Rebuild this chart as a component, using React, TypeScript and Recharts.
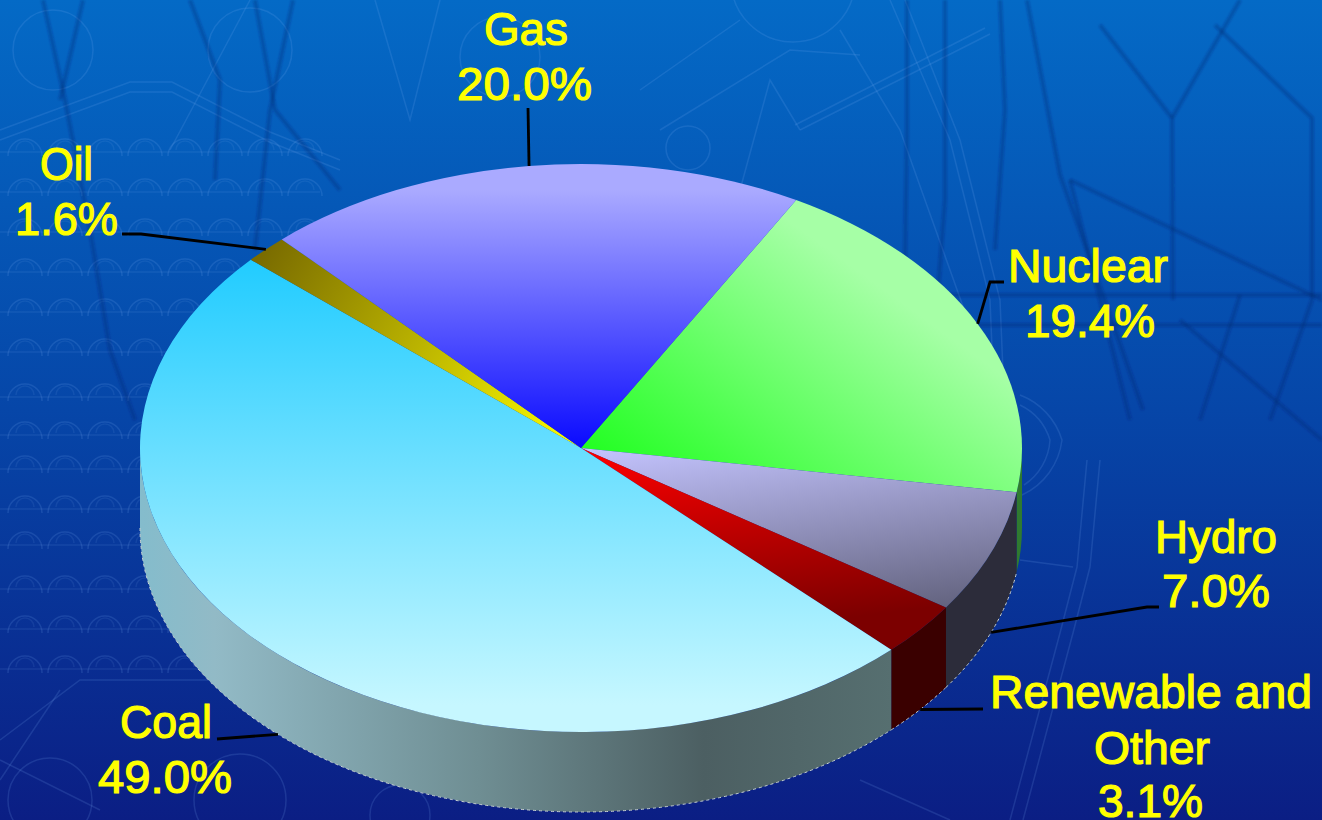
import React from "react";
import { PieChart, Pie } from "recharts";

const WIDTH = 1322;
const HEIGHT = 820;

// clockwise from the gas/nuclear boundary
const categories = ["Nuclear", "Hydro", "Renewable and Other", "Coal", "Oil", "Gas"];
const shares = [19.4, 7.0, 3.1, 49.0, 1.6, 20.0];
const nameRows = [["Nuclear"], ["Hydro"], ["Renewable and", "Other"], ["Coal"], ["Oil"], ["Gas"]];

const chartData = categories.map((name, i) => ({ name, value: shares[i] }));

// look of the tilted disc
const CX = 581;
const CY = 448;
const RADIUS = 441;
const TILT = 0.644;
const DEPTH = 80;
const START_ANGLE = 60.8;

const innerColors = ["#22ff22", "#c4c4ff", "#ff0000", "#22ccff", "#ffff00", "#0a0aff"];
const outerColors = ["#a6ffa6", "#646480", "#7c0000", "#c6f7ff", "#7a6c00", "#aaaaff"];
const sideColors = ["#2f7a30", "#2c2c3a", "#3a0000", "url(#coalSide)", "#555", "#333"];
const gradientAxes = [
  [581, 448, 760, 200],
  [581, 448, 606, 648],
  [581, 448, 606, 648],
  [581, 262, 581, 705],
  [581, 448, 266, 249],
  [581, 448, 581, 190],
];

// label placement: [x left, baseline, width] for every row, then the leader's way to the text
const rowBoxes = [
  [[1008, 282, 160], [1025, 337, 130]],
  [[1155, 553, 122], [1162, 607, 108]],
  [[990, 708, 322], [1094, 764, 116], [1098, 817, 105]],
  [[120, 738, 92], [98, 793, 134]],
  [[40, 180, 53], [15, 235, 103]],
  [[484, 45, 84], [457, 100, 135]],
];
const leaderEnds = [
  [[990, 282], [1004, 282]],
  [[1147, 607], [1159, 607]],
  [[983, 709]],
  [[217, 739]],
  [[141, 234], [122, 234]],
  [[528, 108]],
];

const toXY = (deg: number, drop = 0) => {
  const a = (deg * Math.PI) / 180;
  return [CX + RADIUS * Math.cos(a), CY - RADIUS * TILT * Math.sin(a) + drop];
};

const arcTo = (deg: number, sweep: number, large: number, drop = 0) => {
  const [x, y] = toXY(deg, drop);
  return `A${RADIUS} ${RADIUS * TILT} 0 ${large} ${sweep} ${x} ${y}`;
};

function DiscSlice(props: any) {
  const { startAngle, endAngle, index } = props;
  const hi = Math.max(startAngle, endAngle);
  const lo = Math.min(startAngle, endAngle);
  const [sx, sy] = toXY(hi);
  const top = `M${CX} ${CY}L${sx} ${sy}${arcTo(lo, 1, hi - lo > 180 ? 1 : 0)}Z`;

  // only the part of the rim facing the viewer has a wall
  const wallHi = Math.min(hi, 0);
  const wallLo = Math.max(lo, -180);
  const hasWall = wallHi > wallLo;
  let wall = "";
  let rim = "";
  if (hasWall) {
    const [ax, ay] = toXY(wallHi);
    const [bx, by] = toXY(wallLo, DEPTH);
    wall = `M${ax} ${ay}${arcTo(wallLo, 1, 0)}L${bx} ${by}${arcTo(wallHi, 0, 0, DEPTH)}Z`;
    rim = `M${bx} ${by}${arcTo(wallHi, 0, 0, DEPTH)}`;
  }

  const [x1, y1, x2, y2] = gradientAxes[index];
  const gradId = `slice${index}`;

  return (
    <g>
      <defs>
        <linearGradient id={gradId} gradientUnits="userSpaceOnUse" x1={x1} y1={y1} x2={x2} y2={y2}>
          <stop offset="0" stopColor={innerColors[index]} />
          <stop offset="1" stopColor={outerColors[index]} />
        </linearGradient>
      </defs>
      {hasWall && <path d={wall} fill={sideColors[index]} />}
      {hasWall && index !== 0 && (
        <path d={rim} fill="none" stroke="#c9d2d2" strokeWidth={1} strokeDasharray="3 3" />
      )}
      <path d={top} fill={`url(#${gradId})`} />
    </g>
  );
}

function SliceLabel(props: any) {
  const { index, midAngle, value } = props;
  const boxes = rowBoxes[index];
  const rows = [...nameRows[index], `${Number(value).toFixed(1)}%`];
  // leaders of front slices land on the bottom of the wall
  const facesViewer = Math.sin((midAngle * Math.PI) / 180) < 0;
  const anchor = toXY(midAngle, facesViewer ? DEPTH : 0);
  const leader = [anchor, ...leaderEnds[index]].map((p) => p.join(",")).join(" ");
  return (
    <g>
      <polyline points={leader} fill="none" stroke="#000" strokeWidth={2.8} />
      {rows.map((row, i) => (
        <text
          key={row}
          x={boxes[i][0]}
          y={boxes[i][1]}
          textLength={boxes[i][2]}
          lengthAdjust="spacingAndGlyphs"
          fontFamily="'Liberation Sans', Arial, sans-serif"
          fontSize={47}
          fill="#ffff00"
          stroke="#ffff00"
          strokeWidth={1.2}
        >
          {row}
        </text>
      ))}
    </g>
  );
}

// faint blueprint and pylon drawing behind the chart, decoration only
const wheelColumns = [25, 65, 105, 145, 185, 225, 265, 305];
const wheelRows = [150, 190, 230, 270, 310, 350, 395, 433, 467, 507, 543, 587, 627, 667];
const gearCircles = [
  [53, 50, 40], [250, 50, 42], [500, 57, 40], [793, -20, 62], [688, 148, 22],
  [50, 800, 42], [240, 800, 46], [400, 815, 30],
];
const paleLines = [
  "0,130 130,82 172,82 270,132 340,160",
  "0,140 130,92 172,92 270,142 340,170",
  "905,0 960,140 1000,300 1005,420",
  "890,0 950,140 990,300 995,420",
  "840,30 900,130 975,340 1000,470",
  "795,125 985,28",
  "800,130 990,34",
  "660,130 790,50 860,55",
  "640,90 740,20",
  "740,190 770,80 800,130",
  "1087,460 1077,567 1060,633 1010,820",
  "1100,460 1090,567 1073,633 1023,820",
  "1020,560 1073,567",
  "0,740 80,680 240,680",
  "0,760 100,810",
  "60,690 0,780",
  "860,780 950,820",
  "375,0 410,120 440,0",
  "170,150 250,0",
];
const paleArcs = [
  "M1022 495A70 70 0 0 0 1062 440A70 70 0 0 0 1020 395",
  "M1024 485A58 58 0 0 0 1050 440A58 58 0 0 0 1020 405",
];
const darkLines = [
  "43,0 65,100 90,230 110,350 135,420",
  "83,0 60,100",
  "293,0 270,110 255,250",
  "255,0 275,110 340,190",
  "190,0 220,80 215,180",
  "907,0 907,130 905,260",
  "945,0 945,200 935,330",
  "1027,0 1060,175 1103,295 1143,410",
  "1000,0 1005,110 995,250",
  "1100,25 1172,118 1173,300",
  "1172,118 1240,0",
  "1215,25 1312,118 1312,300",
  "1070,180 1322,300",
  "1070,180 1100,300 1130,420",
  "1240,295 1200,420",
  "1312,300 1270,420",
  "1180,320 1322,440",
  "940,295 1322,295",
  "940,325 1322,325",
];

function Backdrop() {
  return (
    <svg width={WIDTH} height={HEIGHT} style={{ position: "absolute", left: 0, top: 0 }}>
      <defs>
        <linearGradient id="sky" x1="0" y1="0" x2="0" y2="1">
          <stop offset="0" stopColor="#046ac6" />
          <stop offset="0.5" stopColor="#0646a8" />
          <stop offset="1" stopColor="#0b1e84" />
        </linearGradient>
        <filter id="soft">
          <feGaussianBlur stdDeviation="0.6" />
        </filter>
        <filter id="softer">
          <feGaussianBlur stdDeviation="1.2" />
        </filter>
      </defs>
      <rect width={WIDTH} height={HEIGHT} fill="url(#sky)" />
      <g fill="none" stroke="#7fb0f0" strokeOpacity={0.16} strokeWidth={1.5} filter="url(#soft)">
        {wheelRows.map((y) =>
          wheelColumns.map((x) => (
            <g key={`${x}-${y}`}>
              <path d={`M${x - 17} ${y + 6}A17 17 0 0 1 ${x + 17} ${y + 6}`} />
              <path d={`M${x - 9} ${y}A9 9 0 0 1 ${x + 9} ${y}`} strokeOpacity={0.1} />
            </g>
          ))
        )}
        {wheelRows.map((y) => (
          <path key={y} d={`M0 ${y + 2}H320`} strokeOpacity={0.12} />
        ))}
        {gearCircles.map(([x, y, r]) => (
          <circle key={`${x}-${y}`} cx={x} cy={y} r={r} />
        ))}
        {paleLines.map((pts) => (
          <polyline key={pts} points={pts} />
        ))}
        {paleArcs.map((d) => (
          <path key={d} d={d} />
        ))}
      </g>
      <g fill="none" stroke="#02266e" strokeOpacity={0.3} strokeWidth={4} filter="url(#softer)">
        {darkLines.map((pts) => (
          <polyline key={pts} points={pts} />
        ))}
      </g>
    </svg>
  );
}

export default function App() {
  return (
    <div
      style={{
        position: "absolute",
        left: 0,
        top: 0,
        width: WIDTH,
        height: HEIGHT,
        overflow: "hidden",
      }}
    >
      <Backdrop />
      <div style={{ position: "absolute", left: 0, top: 0 }}>
        <PieChart width={WIDTH} height={HEIGHT} margin={{ top: 0, right: 0, bottom: 0, left: 0 }}>
          <defs>
            <linearGradient id="coalSide" gradientUnits="userSpaceOnUse" x1="140" y1="0" x2="892" y2="0">
              <stop offset="0" stopColor="#84bccc" />
              <stop offset="0.1" stopColor="#92bac6" />
              <stop offset="0.45" stopColor="#6f8e93" />
              <stop offset="0.75" stopColor="#4c5f62" />
              <stop offset="1" stopColor="#566f70" />
            </linearGradient>
          </defs>
          <Pie
            data={chartData}
            dataKey="value"
            nameKey="name"
            cx={CX}
            cy={CY}
            innerRadius={0}
            outerRadius={RADIUS}
            startAngle={START_ANGLE}
            endAngle={START_ANGLE - 360}
            stroke="none"
            isAnimationActive={false}
            shape={DiscSlice}
            label={SliceLabel}
            labelLine={false}
          />
        </PieChart>
      </div>
    </div>
  );
}
